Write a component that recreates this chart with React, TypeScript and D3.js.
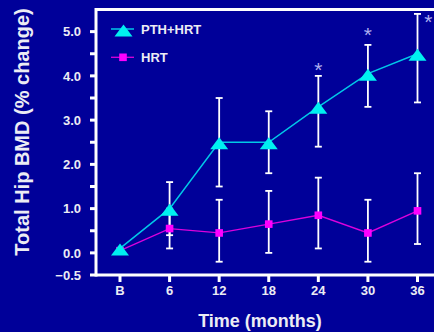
import React, { useEffect, useRef } from 'react';
import * as d3 from 'd3';

// months after baseline (B = 0)
const months = [0, 6, 12, 18, 24, 30, 36];
const monthLabels = ['B', '6', '12', '18', '24', '30', '36'];

const pthHrt = [0.1, 1.0, 2.5, 2.5, 3.3, 4.05, 4.5];
const pthHrtLow = [null, 0.4, 1.5, 1.8, 2.4, 3.3, 3.4];
const pthHrtHigh = [null, 1.6, 3.5, 3.2, 4.0, 4.7, 5.4];

const hrt = [0.05, 0.55, 0.45, 0.65, 0.85, 0.45, 0.95];
const hrtLow = [null, 0.1, -0.2, 0.0, 0.1, -0.2, 0.2];
const hrtHigh = [null, 1.0, 1.2, 1.4, 1.7, 1.2, 1.8];

// significance marks (placed in data units, as in the source figure)
const starMonths = [24, 30, 37.3];
const starValues = [4.2, 5.0, 5.28];

const yTicks = [-0.5, 0, 0.5, 1, 1.5, 2, 2.5, 3, 3.5, 4, 4.5, 5];
const yLabelled = [-0.5, 0, 1, 2, 3, 4, 5];

const W = 434;
const H = 332;
const BG = '#000099';
const TXT = '#ececf4';
const FONT = '"Liberation Sans", Arial, sans-serif';

const App: React.FC = () => {
  const svgRef = useRef<SVGSVGElement>(null);

  useEffect(() => {
    if (!svgRef.current) return;
    const svg = d3.select(svgRef.current);
    svg.selectAll('*').remove();

    const left = 96;
    const top = 9.5;
    const bottom = 275;

    const x = d3.scaleLinear().domain([0, 36]).range([120, 417.5]);
    const y = d3.scaleLinear().domain([-0.5, 5.5]).range([bottom, top]);

    svg.append('rect').attr('width', W).attr('height', H).attr('fill', BG);

    // frame: left, top, bottom
    const frame = svg.append('g').attr('stroke', '#ffffff').attr('stroke-width', 3);
    frame.append('line').attr('x1', left).attr('x2', left).attr('y1', top - 1.5).attr('y2', bottom + 1.5);
    frame.append('line').attr('x1', left).attr('x2', W).attr('y1', top).attr('y2', top);
    frame.append('line').attr('x1', left).attr('x2', W).attr('y1', bottom).attr('y2', bottom);

    // y ticks
    yTicks.forEach(t => {
      frame.append('line')
        .attr('x1', left - 6).attr('x2', left)
        .attr('y1', y(t)).attr('y2', y(t));
    });
    svg.append('g').selectAll('text')
      .data(yLabelled)
      .enter()
      .append('text')
      .attr('x', 81)
      .attr('y', d => y(d))
      .attr('dy', '0.36em')
      .attr('text-anchor', 'end')
      .attr('font-family', FONT)
      .attr('font-weight', 'bold')
      .attr('font-size', 13)
      .attr('fill', TXT)
      .text(d => d3.format('.1f')(d));

    // x ticks
    months.forEach(m => {
      frame.append('line')
        .attr('x1', x(m)).attr('x2', x(m))
        .attr('y1', bottom).attr('y2', bottom + 7);
    });
    svg.append('g').selectAll('text')
      .data(months)
      .enter()
      .append('text')
      .attr('x', d => x(d))
      .attr('y', 295)
      .attr('text-anchor', 'middle')
      .attr('font-family', FONT)
      .attr('font-weight', 'bold')
      .attr('font-size', 13)
      .attr('fill', TXT)
      .text((d, i) => monthLabels[i]);

    // axis titles
    svg.append('text')
      .attr('x', 260)
      .attr('y', 327)
      .attr('text-anchor', 'middle')
      .attr('font-family', FONT)
      .attr('font-weight', 'bold')
      .attr('font-size', 18)
      .attr('fill', TXT)
      .text('Time (months)');

    svg.append('text')
      .attr('transform', 'translate(29,132) rotate(-90)')
      .attr('text-anchor', 'middle')
      .attr('font-family', FONT)
      .attr('font-weight', 'bold')
      .attr('font-size', 20)
      .attr('fill', TXT)
      .text('Total Hip BMD (% change)');

    // error bars
    const bars = svg.append('g').attr('stroke', '#ffffff').attr('stroke-width', 1.8);
    const drawBars = (low: (number | null)[], high: (number | null)[]) => {
      months.forEach((m, i) => {
        const lo = low[i];
        const hi = high[i];
        if (lo === null || hi === null) return;
        const cx = x(m);
        bars.append('line').attr('x1', cx).attr('x2', cx).attr('y1', y(lo)).attr('y2', y(hi));
        bars.append('line').attr('x1', cx - 3.5).attr('x2', cx + 3.5).attr('y1', y(lo)).attr('y2', y(lo));
        bars.append('line').attr('x1', cx - 3.5).attr('x2', cx + 3.5).attr('y1', y(hi)).attr('y2', y(hi));
      });
    };
    drawBars(hrtLow, hrtHigh);
    drawBars(pthHrtLow, pthHrtHigh);

    const line = d3.line<number>()
      .x((d, i) => x(months[i]))
      .y(d => y(d));

    const triangle = (cx: number, cy: number) =>
      `M${cx},${cy - 5}L${cx + 9},${cy + 7}L${cx - 9},${cy + 7}Z`;

    // HRT series
    svg.append('path')
      .datum(hrt)
      .attr('fill', 'none')
      .attr('stroke', '#dd00dd')
      .attr('stroke-width', 1.3)
      .attr('d', line);
    svg.append('g').selectAll('rect')
      .data(hrt)
      .enter()
      .append('rect')
      .attr('x', (d, i) => x(months[i]) - 3.8)
      .attr('y', d => y(d) - 3.8)
      .attr('width', 7.6)
      .attr('height', 7.6)
      .attr('fill', '#ff00ff');

    // PTH+HRT series
    svg.append('path')
      .datum(pthHrt)
      .attr('fill', 'none')
      .attr('stroke', '#00c8e8')
      .attr('stroke-width', 1.5)
      .attr('d', line);
    svg.append('g').selectAll('path')
      .data(pthHrt)
      .enter()
      .append('path')
      .attr('d', (d, i) => triangle(x(months[i]), y(d)))
      .attr('fill', '#00f0f0');

    // significance marks
    svg.append('g').selectAll('text')
      .data(starMonths)
      .enter()
      .append('text')
      .attr('x', d => x(d))
      .attr('y', (d, i) => y(starValues[i]) + 10)
      .attr('text-anchor', 'middle')
      .attr('font-family', FONT)
      .attr('font-size', 21)
      .attr('fill', '#aeaef0')
      .text('*');

    // legend
    const legend = svg.append('g').attr('font-family', FONT).attr('font-weight', 'bold').attr('font-size', 13);
    legend.append('line').attr('x1', 111).attr('x2', 134).attr('y1', 29).attr('y2', 29)
      .attr('stroke', '#00c8e8').attr('stroke-width', 1.5);
    legend.append('path').attr('d', triangle(123.5, 29.5)).attr('fill', '#00f0f0');
    legend.append('text').attr('x', 141).attr('y', 33.5).attr('fill', TXT).text('PTH+HRT');

    legend.append('line').attr('x1', 111).attr('x2', 134).attr('y1', 57.3).attr('y2', 57.3)
      .attr('stroke', '#dd00dd').attr('stroke-width', 1.3);
    legend.append('rect').attr('x', 119.2).attr('y', 53.5).attr('width', 7.6).attr('height', 7.6).attr('fill', '#ff00ff');
    legend.append('text').attr('x', 141).attr('y', 62).attr('fill', TXT).text('HRT');
  }, []);

  return (
    <svg
      ref={svgRef}
      width={W}
      height={H}
      style={{ position: 'absolute', left: 0, top: 0, display: 'block' }}
    />
  );
};

export default App;
